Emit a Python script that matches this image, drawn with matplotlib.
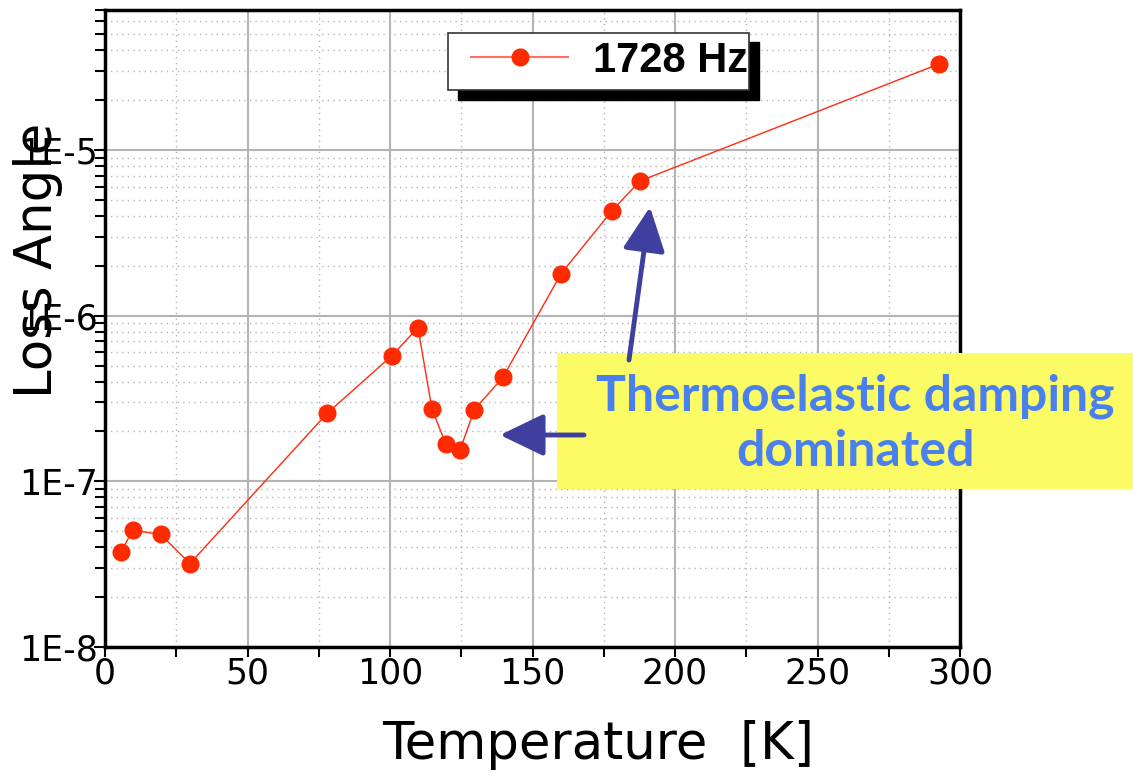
import matplotlib
matplotlib.use("Agg")
import matplotlib.pyplot as plt
from matplotlib.patches import Rectangle, FancyArrowPatch
from matplotlib.ticker import FixedLocator, MultipleLocator, NullFormatter

# ---- data ----
temperature = [5.6, 9.7, 19.5, 29.8, 77.9, 100.7, 109.8, 114.7, 119.6, 124.6,
               129.6, 139.6, 160.0, 177.9, 187.7, 292.7]
loss_angle = [3.73e-8, 5.07e-8, 4.78e-8, 3.19e-8, 2.57e-7, 5.74e-7, 8.47e-7,
              2.75e-7, 1.67e-7, 1.55e-7, 2.71e-7, 4.24e-7, 1.79e-6, 4.30e-6,
              6.50e-6, 3.31e-5]
series_label = "1728 Hz"
x_ticks = [0, 50, 100, 150, 200, 250, 300]
y_ticks = [1e-8, 1e-7, 1e-6, 1e-5]
y_tick_labels = ["1E-8", "1E-7", "1E-6", "1E-5"]
annotation_text = "Thermoelastic damping\ndominated"

W, H = 1133, 779
fig = plt.figure(figsize=(W / 100, H / 100), dpi=100)
ax = fig.add_axes([105 / W, 1 - 647 / H, (960 - 105) / W, (647 - 10) / H])

ax.set_yscale("log")
ax.set_xlim(0, 300)
ax.set_ylim(1e-8, 7e-5)

ax.xaxis.set_major_locator(FixedLocator(x_ticks))
ax.xaxis.set_minor_locator(MultipleLocator(25))
ax.yaxis.set_major_locator(FixedLocator(y_ticks))
ax.set_yticklabels(y_tick_labels)
ax.yaxis.set_minor_formatter(NullFormatter())

ax.grid(which="major", color="#b4b4b4", lw=1.5, ls="-")
ax.grid(which="minor", color="#b4b4b4", lw=1.0, ls=(0, (1, 3)))
ax.set_axisbelow(True)

for s in ax.spines.values():
    s.set_linewidth(2.5)
    s.set_color("black")

ax.tick_params(which="both", direction="out", width=1.5, top=False, right=False)
ax.tick_params(axis="x", which="both", length=7, pad=0, labelsize=25)
ax.tick_params(axis="y", which="major", length=8, pad=-3, labelsize=25)
ax.tick_params(axis="y", which="minor", length=7)

line, = ax.plot(temperature, loss_angle, color="#ff2a10", lw=1.0, marker="o",
                markersize=12, markerfacecolor="#ff2a00", markeredgecolor="#ff2a00",
                label=series_label, zorder=5)

# axis labels
fig.text(598 / W, 1 - 745 / H, "Temperature  [K]", fontsize=37,
         ha="center", va="center")
fig.text(38 / W, 1 - 260 / H, "Loss Angle", fontsize=37, rotation=90,
         ha="center", va="center")

# legend box with hard shadow
fig.patches.append(Rectangle((458 / W, 1 - 100 / H), 301 / W, 58 / H,
                             transform=fig.transFigure, facecolor="black",
                             edgecolor="black", zorder=3))
fig.patches.append(Rectangle((448 / W, 1 - 90 / H), 301 / W, 57 / H,
                             transform=fig.transFigure, facecolor="white",
                             edgecolor="#333333", lw=1.2, zorder=4))
leg = fig.legend(handles=[line], loc="center left",
                 bbox_to_anchor=(471 / W, 1 - 61 / H), frameon=False,
                 prop={"family": "Liberation Sans", "weight": "bold", "size": 30},
                 handlelength=2.33, handletextpad=0.6, borderpad=0,
                 borderaxespad=0)
leg.set_zorder(6)
leg.get_lines()[0].set_color("#ff7060")
leg.get_lines()[0].set_markerfacecolor("#ff2a00")
leg.get_lines()[0].set_markeredgecolor("#ff2a00")
leg.get_lines()[0].set_linewidth(1.5)

# yellow annotation box
fig.patches.append(Rectangle((557 / W, 1 - 489 / H), (W - 557) / W, 136 / H,
                             transform=fig.transFigure, facecolor="#fbfb66",
                             edgecolor="none", zorder=3))
fig.text(855 / W, 1 - 424 / H, annotation_text, fontsize=36, color="#4a80ee",
         family="Lato", weight="bold", ha="center", va="center",
         linespacing=1.27, zorder=7)

# arrows (figure pixel coordinates)
arrow_color = "#3f3fa0"
for (x0, y0), (x1, y1) in [((629, 360), (650, 207)), ((584, 435), (500, 435))]:
    arr = FancyArrowPatch((x0 / W, 1 - y0 / H), (x1 / W, 1 - y1 / H),
                          transform=fig.transFigure,
                          arrowstyle="-|>,head_length=27,head_width=13",
                          mutation_scale=1, lw=3.5, color=arrow_color,
                          shrinkA=0, shrinkB=0, zorder=8)
    fig.patches.append(arr)

fig.savefig("out.png", dpi=100)
